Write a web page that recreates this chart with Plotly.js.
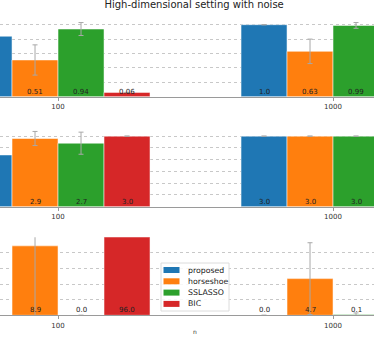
<!DOCTYPE html>
<html>
<head>
<meta charset="utf-8">
<script src="https://cdn.plot.ly/plotly-3.0.1.min.js"></script>
<style>
  body { margin: 0; background: #fff; }
  #chart { width: 374px; height: 358px; }
</style>
</head>
<body>
<div id="chart"></div>
<script>
// group labels (n)
const groups = ['100', '1000'];
const methods = ['proposed', 'horseshoe', 'SSLASSO', 'BIC'];
const colors = ['#1f77b4', '#ff7f0e', '#2ca02c', '#d62728'];

// top panel
const top_proposed = [0.84, 1.0];
const top_horseshoe = [0.51, 0.63];
const top_sslasso = [0.94, 0.99];
const top_bic = [0.06, 0.02];
const top_err_proposed = [0.12, 0.0];
const top_err_horseshoe = [0.21, 0.17];
const top_err_sslasso = [0.09, 0.04];
const top_err_bic = [0.0, 0.0];

// middle panel
const mid_proposed = [2.2, 3.0];
const mid_horseshoe = [2.9, 3.0];
const mid_sslasso = [2.7, 3.0];
const mid_bic = [3.0, 3.0];
const mid_err_proposed = [0.4, 0.0];
const mid_err_horseshoe = [0.3, 0.0];
const mid_err_sslasso = [0.47, 0.0];
const mid_err_bic = [0.0, 0.0];

// bottom panel
const bot_proposed = [0.0, 0.0];
const bot_horseshoe = [8.9, 4.7];
const bot_sslasso = [0.0, 0.1];
const bot_bic = [96.0, 90.0];
const bot_err_proposed = [0.0, 0.0];
const bot_err_horseshoe = [9.5, 4.6];
const bot_err_sslasso = [0.0, 0.2];
const bot_err_bic = [0.0, 0.0];

// value labels shown at the foot of each bar
const top_labels = [['', '1.0'], ['0.51', '0.63'], ['0.94', '0.99'], ['0.06', '']];
const mid_labels = [['', '3.0'], ['2.9', '3.0'], ['2.7', '3.0'], ['3.0', '']];
const bot_labels = [['', '0.0'], ['8.9', '4.7'], ['0.0', '0.1'], ['96.0', '']];

const panels = [
  {vals: [top_proposed, top_horseshoe, top_sslasso, top_bic],
   errs: [top_err_proposed, top_err_horseshoe, top_err_sslasso, top_err_bic],
   labels: top_labels, ax: ''},
  {vals: [mid_proposed, mid_horseshoe, mid_sslasso, mid_bic],
   errs: [mid_err_proposed, mid_err_horseshoe, mid_err_sslasso, mid_err_bic],
   labels: mid_labels, ax: '2'},
  {vals: [bot_proposed, bot_horseshoe, bot_sslasso, bot_bic],
   errs: [bot_err_proposed, bot_err_horseshoe, bot_err_sslasso, bot_err_bic],
   labels: bot_labels, ax: '3'}
];

const W = 374, H = 358;
const bargap = 0.331;
const barW = (1 - bargap) / methods.length;

const traces = [];
const annotations = [];
const shapes = [];
panels.forEach((p, pi) => {
  methods.forEach((m, mi) => {
    traces.push({
      type: 'bar',
      name: m,
      x: groups,
      y: p.vals[mi],
      xaxis: 'x' + p.ax,
      yaxis: 'y' + p.ax,
      showlegend: false,
      marker: {color: colors[mi], line: {color: 'rgba(255,255,255,0.5)', width: 1}},
      error_y: {type: 'data', array: p.errs[mi], visible: true,
                color: '#a8a8a8', thickness: 1, width: 2.5},
      hoverinfo: 'skip'
    });
    groups.forEach((g, gi) => {
      const t = p.labels[mi][gi];
      if (!t) return;
      annotations.push({
        x: gi + (mi - 1.5) * barW,
        y: 0,
        xref: 'x' + p.ax,
        yref: 'y' + p.ax,
        text: t,
        showarrow: false,
        yanchor: 'bottom',
        yshift: -1,
        font: {size: 7, color: '#222', family: 'DejaVu Sans'}
      });
    });
  });
});

// x axis title
annotations.push({
  x: 195 / W, y: 1 - 331 / H, xref: 'paper', yref: 'paper', yanchor: 'middle',
  text: 'n', showarrow: false, font: {size: 6, color: '#333', family: 'DejaVu Sans'}
});

// legend box (matplotlib style, compact rows)
const lg = {x0: 161, x1: 229, y0: 263, y1: 311, row0: 270, rowStep: 11.3};
shapes.push({
  type: 'rect', xref: 'paper', yref: 'paper',
  x0: lg.x0 / W, x1: lg.x1 / W, y0: 1 - lg.y1 / H, y1: 1 - lg.y0 / H,
  fillcolor: 'rgba(255,255,255,0.85)', line: {color: '#dcdcdc', width: 1}
});
methods.forEach((m, mi) => {
  const cy = lg.row0 + mi * lg.rowStep;
  shapes.push({
    type: 'rect', xref: 'paper', yref: 'paper',
    x0: 163.5 / W, x1: 179.5 / W, y0: 1 - (cy + 3) / H, y1: 1 - (cy - 3) / H,
    fillcolor: colors[mi], line: {width: 0}
  });
  annotations.push({
    x: 185.5 / W, y: 1 - cy / H, xref: 'paper', yref: 'paper',
    xanchor: 'left', yanchor: 'middle',
    text: m, showarrow: false,
    font: {size: 7.8, color: '#222', family: 'DejaVu Sans'}
  });
});

function xax(anchor) {
  return {
    anchor: anchor,
    type: 'category',
    range: [-0.211, 1.149],
    showgrid: false,
    showline: true,
    linecolor: '#9a9a9a',
    linewidth: 1,
    ticks: 'outside',
    ticklen: 3,
    tickcolor: '#9a9a9a',
    tickfont: {size: 7, color: '#333', family: 'DejaVu Sans'},
    zeroline: false,
    fixedrange: true
  };
}
function yax(anchor, domain, range, dtick) {
  return {
    anchor: anchor,
    domain: domain,
    range: range,
    dtick: dtick,
    showticklabels: false,
    showgrid: true,
    gridcolor: '#c8c8c8',
    griddash: 'dot',
    gridwidth: 1,
    zeroline: false,
    showline: false
  };
}

const layout = {
  width: W,
  height: H,
  margin: {l: 0, r: 0, t: 0, b: 0},
  paper_bgcolor: '#fff',
  plot_bgcolor: '#fff',
  title: {
    text: 'High-dimensional setting with noise',
    x: 0.519, xanchor: 'center',
    y: 1 - 4 / H, yanchor: 'middle',
    font: {size: 10, color: '#222', family: 'DejaVu Sans'}
  },
  barmode: 'group',
  bargap: bargap,
  bargroupgap: 0,
  xaxis: xax('y'),
  xaxis2: xax('y2'),
  xaxis3: xax('y3'),
  yaxis: yax('x', [0.7299, 0.9511], [0, 1.1], 0.2),
  yaxis2: yax('x2', [0.4226, 0.6394], [0, 3.3], 0.5),
  yaxis3: yax('x3', [0.1193, 0.3372], [0, 10], 2),
  showlegend: false,
  annotations: annotations,
  shapes: shapes
};

Plotly.newPlot('chart', traces, layout, {displayModeBar: false, staticPlot: true});
</script>
</body>
</html>
